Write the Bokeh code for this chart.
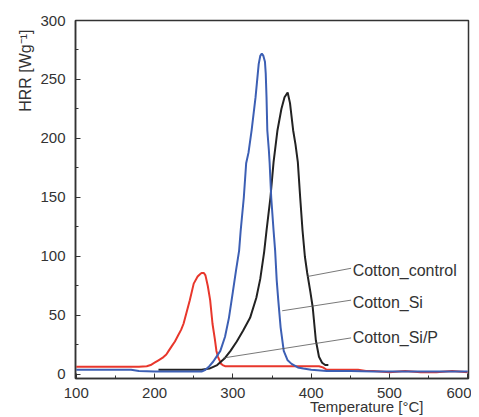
from bokeh.plotting import figure
from bokeh.models import Range1d, SingleIntervalTicker, Title, ColumnDataSource, Div
from bokeh.layouts import column
from bokeh.core.properties import value
from bokeh.embed import file_html
from bokeh.resources import INLINE

# Cotton_Si/P (red)
T_red = [100,120,140,160,180,190,195,200,205,210,215,218,222,226,230,234,237,241,245,250,255,258,260,263,265,268,271,274,277,279,281,283,285,287,290,300,310,320,330,350,370,390,400,410,415,420,440,460,470,480,500,520,540,560,580,600]
V_red = [6.5,6.5,6.5,6.5,6.5,7,8,10,12,14,17,20,24,28,33,38,43,53,63,77,83,85,86,86,84,75,63,43,30,20,15,12,9,8,7,7,7,7,7,7,7,7,7,7,6,4,4,4,3,3,2,3,2,2,3,2]

# Cotton_Si (blue)
T_blue = [100,120,140,160,170,180,200,220,240,260,265,270,275,280,284,290,295,300,304,308,310,314,317,320,324,329,333,335,337,339,341,342,343,344,346,347,349,352,354,356,358,361,365,370,375,383,390,400,420,450,480,500,520,550,600]
V_blue = [4,4,4,4,4,3,2.5,2.5,2.5,2.5,4,7,11,16,20,32,48,70,88,105,122,150,179,188,207,235,263,270,272,270,265,255,235,207,190,179,150,122,105,80,63,40,20,12,9,6,5,4,3,3,2.5,2.5,2.5,2.5,2.5]

# Cotton_control (black)
T_black = [205,220,240,260,270,280,290,297,305,313,322,330,335,340,343,348,352,357,362,366,370,373,377,380,383,386,389,392,395,399,402,406,410,414,418,422]
V_black = [4,4,4,4,5,8,14,20,28,37,48,65,81,104,122,150,180,207,225,235,239,230,207,195,180,150,122,100,86,70,57,29,15,10,8,8]

# Annotations
labels = ["Cotton_control", "Cotton_Si", "Cotton_Si/P"]
label_x = [453, 453, 453]
label_y = [88, 61, 31]
lead_x0 = [395, 363, 288]
lead_y0 = [83, 54, 14]
lead_x1 = [451, 451, 451]
lead_y1 = [90, 63, 31]

x_ticks_interval = 100
y_ticks_interval = 50
x_title = "Temperature [°C]"
y_title = "HRR [Wg⁻¹]"

FONT = "Liberation Sans"
TXT = "#333333"

p = figure(width=471, height=406, output_backend="svg", toolbar_location=None,
           x_range=Range1d(99, 601), y_range=Range1d(-3.4, 300),
           min_border_left=75, min_border_right=3, min_border_top=20, min_border_bottom=28)
p.grid.visible = False
p.background_fill_color = "white"
p.border_fill_color = "white"
p.outline_line_color = "#333333"
p.outline_line_width = 1.5

p.xaxis.ticker = SingleIntervalTicker(interval=x_ticks_interval, num_minor_ticks=2)
p.yaxis.ticker = SingleIntervalTicker(interval=y_ticks_interval, num_minor_ticks=2)
for ax in (p.xaxis, p.yaxis):
    ax.axis_line_color = "#333333"
    ax.axis_line_width = 1.5
    ax.major_tick_in = 5
    ax.major_tick_out = 0
    ax.minor_tick_in = 3
    ax.minor_tick_out = 0
    ax.major_tick_line_color = "#333333"
    ax.minor_tick_line_color = "#333333"
    ax.major_label_text_font = FONT
    ax.major_label_text_font_size = "15px"
    ax.major_label_text_color = TXT
p.xaxis.major_label_standoff = 9
p.yaxis.major_label_standoff = 10

p.line(T_red, V_red, line_color="#e8372c", line_width=2)
p.line(T_black, V_black, line_color="#222222", line_width=2)
p.line(T_blue, V_blue, line_color="#3c5fb4", line_width=2)

p.segment(x0=lead_x0, y0=lead_y0, x1=lead_x1, y1=lead_y1, line_color="#555555", line_width=0.8)
src = ColumnDataSource(dict(x=label_x, y=label_y, t=labels))
p.text(x="x", y="y", text="t", source=src, text_font=value(FONT), text_font_size="16px",
       text_color=TXT, text_align="left", text_baseline="middle")

yt = Title(text=y_title, align="right", offset=9, standoff=7, text_font=FONT,
           text_font_size="16px", text_font_style="normal", text_color=TXT)
p.add_layout(yt, "left")

xdiv = Div(
    text=('<div style="padding-left:310px;font-family:\'Liberation Sans\';'
          'font-size:15px;color:#333333;line-height:16px;position:relative;top:-7px;'
          'white-space:nowrap;">' + x_title + '</div>'),
    width=471, height=3, margin=(0, 0, 0, 0), styles={"overflow": "visible"})

layout = column(p, xdiv, spacing=0)
open("out.html", "w").write(file_html(layout, INLINE))
